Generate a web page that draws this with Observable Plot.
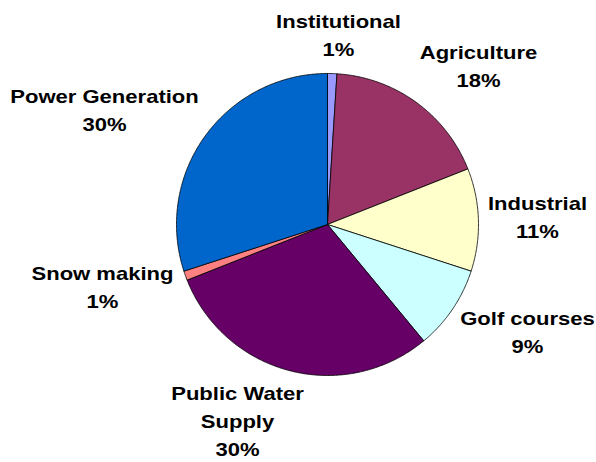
<!DOCTYPE html>
<html>
<head>
<meta charset="utf-8">
<script src="https://cdn.jsdelivr.net/npm/d3@7"></script>
<script src="https://cdn.jsdelivr.net/npm/@observablehq/plot@0.6"></script>
<style>
  html, body { margin: 0; padding: 0; background: #fff; }
</style>
</head>
<body>
<div id="chart"></div>
<script>
// Data
const categories = ["Institutional", "Agriculture", "Industrial", "Golf courses", "Public Water Supply", "Snow making", "Power Generation"];
const labelLines = ["Institutional", "Agriculture", "Industrial", "Golf courses", "Public Water\nSupply", "Snow making", "Power Generation"];
const values = [1, 18, 11, 9, 30, 1, 30];
const colors = ["#9999FF", "#993366", "#FFFFCC", "#CCFFFF", "#660066", "#FF8080", "#0066CC"];

// Layout
const W = 596, H = 462;
const cx = 327, cy = 224, R = 151;
// label anchor offsets (first-line baseline) relative to the pie centre
const labelOffsets = [[11, -196], [151, -165], [210, -14], [200, 101], [-90, 176], [-225, 56], [-223, -121]];

const pie = d3.pie().sort(null).value(d => d.value).startAngle(0).endAngle(2 * Math.PI);
const slices = pie(categories.map((c, i) => ({name: c, value: values[i], color: colors[i], label: labelLines[i]})));

const pts = [];
for (const s of slices) {
  const n = Math.max(2, Math.ceil((s.endAngle - s.startAngle) / (Math.PI / 360)));
  pts.push({name: s.data.name, color: s.data.color, x: cx, y: cy});
  for (let k = 0; k <= n; k++) {
    const a = s.startAngle + (s.endAngle - s.startAngle) * k / n;
    pts.push({name: s.data.name, color: s.data.color, x: cx + R * Math.sin(a), y: cy - R * Math.cos(a)});
  }
  pts.push({name: s.data.name, color: s.data.color, x: cx, y: cy});
}

const fs = 19;
const labels = slices.map((s, i) => ({
  text: s.data.label + "\n" + s.data.value + "%",
  x: cx + labelOffsets[i][0],
  y: cy + labelOffsets[i][1] - 0.71 * fs - 6.5
}));

const chart = Plot.plot({
  width: W,
  height: H,
  margin: 0,
  x: {domain: [0, W], range: [0, W], axis: null},
  y: {domain: [0, H], range: [0, H], axis: null},
  color: {type: "identity"},
  style: {background: "#fff"},
  marks: [
    Plot.line(pts, {x: "x", y: "y", z: "name", fill: "color", stroke: "#000", strokeWidth: 0.8, strokeLinejoin: "round"}),
    Plot.text(labels, {
      x: "x", y: "y", text: "text",
      lineAnchor: "top", lineHeight: 28 / fs,
      fontSize: fs, fontWeight: "bold",
      fontFamily: "'Liberation Sans', Arial, sans-serif",
      fill: "#000", textAnchor: "middle"
    })
  ]
});
// widen the glyphs horizontally, as in the reference rendering
d3.select(chart).selectAll("text").each(function() {
  const t = this.getAttribute("transform") || "";
  this.setAttribute("transform", t + " scale(1.16,1)");
});
document.getElementById("chart").appendChild(chart);
</script>
</body>
</html>
